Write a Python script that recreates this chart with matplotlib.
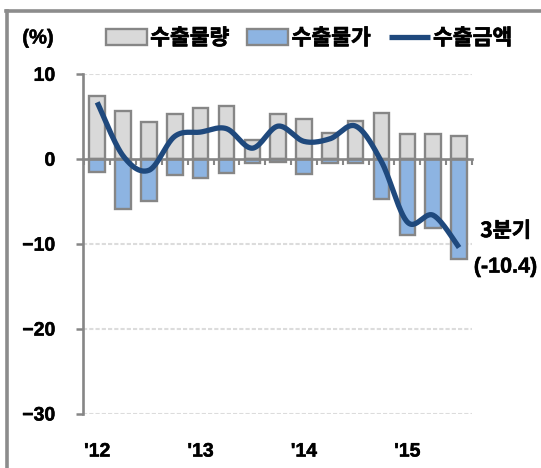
import numpy as np
import matplotlib
matplotlib.use("Agg")
import matplotlib.pyplot as plt
import matplotlib.patheffects as pe
from matplotlib.lines import Line2D

# 분기별 증감률 (전년동기대비, %)
quarters = ["12Q1", "12Q2", "12Q3", "12Q4", "13Q1", "13Q2", "13Q3", "13Q4",
            "14Q1", "14Q2", "14Q3", "14Q4", "15Q1", "15Q2", "15Q3"]
volume = [7.5, 5.7, 4.4, 5.3, 6.0, 6.3, 2.3, 5.3, 4.7, 3.1, 4.5, 5.5, 3.0, 3.0, 2.7]
price = [-1.5, -5.9, -4.9, -1.9, -2.2, -1.6, -0.4, -0.3, -1.7, -0.5, -0.5, -4.7, -8.9, -8.1, -11.8]
amount = [6.7, 0.4, -1.3, 2.7, 3.2, 3.6, 1.3, 3.9, 2.1, 2.4, 3.9, -0.3, -7.4, -6.6, -10.4]
year_labels = ["'12", "'13", "'14", "'15"]
year_pos = [0, 4, 8, 12]
yticks = [10, 0, -10, -20, -30]

GRAY_EDGE = "#868686"
GRAY_FILL = "#d9d9d9"
BLUE_FILL = "#8db4e2"
LINE_COL = "#1f497d"
NUM_FONT = ['Liberation Sans', 'DejaVu Sans']
KOR_FONT = ['Noto Sans CJK KR', 'DejaVu Sans']

plt.rcParams['font.family'] = KOR_FONT
plt.rcParams['font.weight'] = 'bold'
BOLDER = [pe.withStroke(linewidth=0.5, foreground='black')]
NUM_BOLD = [pe.withStroke(linewidth=0.35, foreground='black')]


def smooth(xs, ys, n=30):
    '''Excel 스타일 곡선 (Catmull-Rom -> Bezier).'''
    p = np.column_stack([xs, ys]).astype(float)
    p = np.vstack([p[0], p, p[-1]])
    out = []
    t = np.linspace(0, 1, n)[:, None]
    for i in range(1, len(p) - 2):
        p0, p1, p2, p3 = p[i - 1], p[i], p[i + 1], p[i + 2]
        c1 = p1 + (p2 - p0) / 6
        c2 = p2 - (p3 - p1) / 6
        seg = ((1 - t) ** 3) * p1 + 3 * ((1 - t) ** 2) * t * c1 \
            + 3 * (1 - t) * t ** 2 * c2 + t ** 3 * p2
        out.append(seg if i == 1 else seg[1:])
    out = np.vstack(out)
    return out[:, 0], out[:, 1]


W, H = 541, 468
fig = plt.figure(figsize=(W / 100, H / 100), dpi=100)
ax = fig.add_axes([83 / W, 1 - 414 / H, (472 - 83) / W, (414 - 74.3) / H])

x = np.arange(len(quarters))
b1 = ax.bar(x, volume, width=0.6, color=GRAY_FILL, edgecolor=GRAY_EDGE,
            linewidth=1.7, zorder=2, label="수출물량")
b2 = ax.bar(x, price, width=0.6, color=BLUE_FILL, edgecolor=GRAY_EDGE,
            linewidth=1.7, zorder=2, label="수출물가")
sx, sy = smooth(x, amount)
ln, = ax.plot(sx, sy, color=LINE_COL, linewidth=3.8, solid_capstyle='butt',
              zorder=4, label="수출금액")

ax.set_xlim(-0.55, len(quarters) - 0.5)
ax.set_ylim(-30, 10)
ax.set_yticks(yticks)
ax.tick_params(axis='y', labelsize=14, pad=15, length=5, width=1.8,
               color=GRAY_EDGE, direction='out')
for lab in ax.get_yticklabels():
    lab.set_family(NUM_FONT)
    lab.set_fontweight('bold')
    lab.set_path_effects(NUM_BOLD)

for yy in [10, -10, -20, -30]:
    ax.axhline(yy, color="#dcdcdc", linewidth=1.5, linestyle=(0, (2, 1)), zorder=0)

for s in ["top", "right"]:
    ax.spines[s].set_visible(False)
ax.spines["left"].set_color(GRAY_EDGE)
ax.spines["left"].set_linewidth(1.9)
ax.spines["bottom"].set_position(("data", 0))
ax.spines["bottom"].set_color(GRAY_EDGE)
ax.spines["bottom"].set_linewidth(1.9)
ax.spines["bottom"].set_zorder(3)
ax.set_xticks(np.arange(-0.5, len(quarters), 1.0))
ax.set_xticklabels([])
ax.tick_params(axis='x', length=4, width=1.5, color=GRAY_EDGE, direction='out')

for pos, lab in zip(year_pos, year_labels):
    ax.text(pos, -0.112, lab, transform=ax.get_xaxis_transform(),
            ha='center', va='center', fontsize=14, family=NUM_FONT,
            fontweight='bold', path_effects=NUM_BOLD)

ax.text(len(quarters) - 1 + 1.8, amount[-1] + 2.0, "3분기", ha='center', va='center',
        fontsize=15, clip_on=False, path_effects=BOLDER)
ax.text(len(quarters) - 1 + 1.8, amount[-1] - 2.3, "(%.1f)" % amount[-1], ha='center',
        va='center', fontsize=15.5, clip_on=False, family=NUM_FONT,
        fontweight='bold', path_effects=NUM_BOLD)

fig.text(38 / W, 1 - 38 / H, "(%)", ha='center', va='center', fontsize=14.5,
         family=NUM_FONT, fontweight='bold', path_effects=NUM_BOLD)

leg = fig.legend([b1, b2, ln], ["수출물량", "수출물가", "수출금액"],
                 loc='center left', bbox_to_anchor=(106 / W, 1 - 38 / H), ncol=3,
                 frameon=False, fontsize=15.5, handlelength=1.9, handleheight=0.72,
                 handletextpad=0.15, columnspacing=0.85, borderaxespad=0, borderpad=0)
for t in leg.get_texts():
    t.set_path_effects(BOLDER)

# 바깥 테두리
fig.add_artist(Line2D([7 / W, 7 / W], [0, 1 - 11 / H], color="#8c8c8c", linewidth=2.6))
fig.add_artist(Line2D([7 / W - 0.002, 1], [1 - 11 / H, 1 - 11 / H], color="#8c8c8c", linewidth=2.6))

fig.savefig("out.png", dpi=100)
